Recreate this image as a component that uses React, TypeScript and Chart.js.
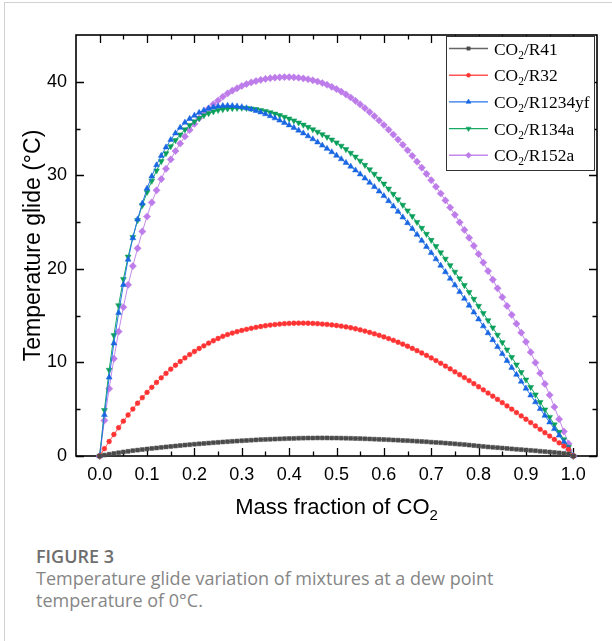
import React, { useEffect, useRef } from 'react';
import { Chart, registerables } from 'chart.js';
import { drawPoint } from 'chart.js/helpers';

Chart.register(...registerables);

// Mass fraction of CO2 (x positions of every computed point)
const MASS_FRACTION = [
  0.0, 0.01, 0.02, 0.03, 0.04, 0.05, 0.06, 0.07, 0.08, 0.09,
  0.1, 0.11, 0.12, 0.13, 0.14, 0.15, 0.16, 0.17, 0.18, 0.19,
  0.2, 0.21, 0.22, 0.23, 0.24, 0.25, 0.26, 0.27, 0.28, 0.29,
  0.3, 0.31, 0.32, 0.33, 0.34, 0.35, 0.36, 0.37, 0.38, 0.39,
  0.4, 0.41, 0.42, 0.43, 0.44, 0.45, 0.46, 0.47, 0.48, 0.49,
  0.5, 0.51, 0.52, 0.53, 0.54, 0.55, 0.56, 0.57, 0.58, 0.59,
  0.6, 0.61, 0.62, 0.63, 0.64, 0.65, 0.66, 0.67, 0.68, 0.69,
  0.7, 0.71, 0.72, 0.73, 0.74, 0.75, 0.76, 0.77, 0.78, 0.79,
  0.8, 0.81, 0.82, 0.83, 0.84, 0.85, 0.86, 0.87, 0.88, 0.89,
  0.9, 0.91, 0.92, 0.93, 0.94, 0.95, 0.96, 0.97, 0.98, 0.99,
  1.0,
];

// Temperature glide (°C) of each mixture
const GLIDE_R41 = [
  0, 0.1, 0.19, 0.27, 0.35, 0.43, 0.5, 0.57, 0.63, 0.69,
  0.75, 0.81, 0.86, 0.92, 0.97, 1.02, 1.07, 1.12, 1.17, 1.21,
  1.26, 1.3, 1.34, 1.38, 1.42, 1.46, 1.5, 1.53, 1.57, 1.6,
  1.63, 1.66, 1.69, 1.72, 1.75, 1.77, 1.79, 1.81, 1.83, 1.85,
  1.87, 1.88, 1.9, 1.91, 1.92, 1.92, 1.93, 1.93, 1.93, 1.92,
  1.92, 1.91, 1.9, 1.89, 1.87, 1.86, 1.84, 1.82, 1.8, 1.78,
  1.76, 1.74, 1.71, 1.69, 1.66, 1.64, 1.61, 1.58, 1.55, 1.52,
  1.48, 1.45, 1.42, 1.38, 1.34, 1.3, 1.26, 1.22, 1.17, 1.12,
  1.07, 1.02, 0.97, 0.93, 0.89, 0.85, 0.81, 0.76, 0.72, 0.68,
  0.64, 0.6, 0.56, 0.51, 0.47, 0.43, 0.38, 0.33, 0.28, 0.22,
  0,
];

const GLIDE_R32 = [
  0, 0.78, 1.55, 2.3, 3.02, 3.72, 4.38, 5.02, 5.64, 6.23,
  6.8, 7.34, 7.86, 8.36, 8.83, 9.28, 9.7, 10.1, 10.48, 10.84,
  11.17, 11.49, 11.78, 12.06, 12.32, 12.56, 12.79, 12.98, 13.14, 13.29,
  13.42, 13.54, 13.65, 13.75, 13.84, 13.92, 13.99, 14.05, 14.1, 14.14,
  14.17, 14.19, 14.2, 14.2, 14.19, 14.17, 14.14, 14.1, 14.06, 14.01,
  13.95, 13.88, 13.8, 13.71, 13.6, 13.48, 13.35, 13.21, 13.06, 12.9,
  12.73, 12.55, 12.36, 12.16, 11.95, 11.73, 11.5, 11.26, 11.01, 10.75,
  10.48, 10.2, 9.91, 9.61, 9.31, 9.0, 8.69, 8.38, 8.06, 7.73,
  7.4, 7.07, 6.73, 6.39, 6.05, 5.7, 5.35, 5.0, 4.64, 4.28,
  3.93, 3.57, 3.21, 2.85, 2.49, 2.13, 1.77, 1.41, 1.05, 0.7,
  0,
];

const GLIDE_R1234YF = [
  0, 4.4, 8.4, 12.05, 15.3, 18.3, 21.0, 23.3, 25.3, 27.0,
  28.6, 29.9, 31.1, 32.1, 33.0, 33.8, 34.5, 35.1, 35.65, 36.05,
  36.4, 36.7, 36.95, 37.15, 37.28, 37.37, 37.43, 37.45, 37.43, 37.38,
  37.3, 37.19, 37.06, 36.91, 36.74, 36.55, 36.34, 36.11, 35.87, 35.62,
  35.36, 35.09, 34.8, 34.5, 34.19, 33.87, 33.54, 33.2, 32.85, 32.49,
  32.12, 31.74, 31.35, 30.95, 30.54, 30.12, 29.68, 29.23, 28.77, 28.29,
  27.8, 27.26, 26.7, 26.12, 25.52, 24.91, 24.29, 23.66, 23.02, 22.37,
  21.71, 21.04, 20.36, 19.67, 18.97, 18.26, 17.54, 16.82, 16.09, 15.36,
  14.62, 13.88, 13.14, 12.4, 11.66, 10.92, 10.18, 9.44, 8.7, 7.96,
  7.22, 6.49, 5.76, 5.04, 4.32, 3.61, 2.9, 2.2, 1.5, 0.8,
  0,
];

const GLIDE_R134A = [
  0, 4.9, 9.2, 12.9, 16.1, 18.9, 21.3, 23.4, 25.2, 26.8,
  28.2, 29.4, 30.5, 31.5, 32.35, 33.1, 33.75, 34.35, 34.9, 35.35,
  35.75, 36.1, 36.4, 36.63, 36.82, 36.96, 37.06, 37.13, 37.17, 37.19,
  37.2, 37.18, 37.13, 37.06, 36.97, 36.86, 36.73, 36.58, 36.42, 36.24,
  36.05, 35.85, 35.63, 35.4, 35.16, 34.91, 34.65, 34.38, 34.1, 33.81,
  33.5, 33.15, 32.78, 32.39, 31.98, 31.55, 31.1, 30.63, 30.14, 29.63,
  29.1, 28.56, 28.0, 27.42, 26.83, 26.23, 25.62, 25.0, 24.37, 23.73,
  23.08, 22.42, 21.75, 21.07, 20.38, 19.68, 18.97, 18.25, 17.52, 16.78,
  16.03, 15.27, 14.5, 13.72, 12.94, 12.15, 11.36, 10.56, 9.76, 8.96,
  8.16, 7.36, 6.56, 5.76, 4.96, 4.16, 3.36, 2.56, 1.76, 0.96,
  0,
];

const GLIDE_R152A = [
  0, 3.8, 7.2, 10.4, 13.3, 15.9, 18.3, 20.3, 22.2, 24.0,
  25.6, 27.1, 28.4, 29.6, 30.7, 31.7, 32.6, 33.4, 34.15, 34.85,
  35.5, 36.1, 36.65, 37.15, 37.6, 38.0, 38.4, 38.75, 39.05, 39.3,
  39.55, 39.75, 39.93, 40.08, 40.2, 40.3, 40.38, 40.44, 40.48, 40.5,
  40.5, 40.48, 40.43, 40.36, 40.27, 40.16, 40.03, 39.87, 39.68, 39.46,
  39.22, 38.95, 38.65, 38.32, 37.96, 37.58, 37.18, 36.76, 36.32, 35.86,
  35.38, 34.88, 34.36, 33.82, 33.26, 32.68, 32.08, 31.46, 30.82, 30.16,
  29.48, 28.78, 28.06, 27.32, 26.56, 25.78, 24.98, 24.16, 23.32, 22.46,
  21.58, 20.68, 19.77, 18.85, 17.92, 16.98, 16.04, 15.09, 14.14, 13.18,
  12.2, 11.1, 9.98, 8.85, 7.7, 6.52, 5.24, 3.94, 2.63, 1.32,
  0,
];

const SERIES_LABELS = ['CO2/R41', 'CO2/R32', 'CO2/R1234yf', 'CO2/R134a', 'CO2/R152a'];
const SERIES_VALUES = [GLIDE_R41, GLIDE_R32, GLIDE_R1234YF, GLIDE_R134A, GLIDE_R152A];

// Axis ticks
const X_TICKS = [0, 0.1, 0.2, 0.3, 0.4, 0.5, 0.6, 0.7, 0.8, 0.9, 1.0];
const X_MINOR = [0.05, 0.15, 0.25, 0.35, 0.45, 0.55, 0.65, 0.75, 0.85, 0.95];
const Y_TICKS = [0, 10, 20, 30, 40];
const Y_MINOR = [5, 15, 25, 35];

const X_TITLE = 'Mass fraction of CO2';
const Y_TITLE = 'Temperature glide (°C)';

// Marker / line styling per series
const STYLES = [
  { color: '#4a4a4a', line: '#666666', pointStyle: 'rect', radius: 2.8, rotation: 0 },
  { color: '#ff3333', line: '#ff5555', pointStyle: 'circle', radius: 2.4, rotation: 0 },
  { color: '#1866e2', line: '#2a74e6', pointStyle: 'triangle', radius: 3.4, rotation: 0 },
  { color: '#0a9f5a', line: '#16aa66', pointStyle: 'triangle', radius: 3.4, rotation: 180 },
  { color: '#bd7ce9', line: '#c48aeb', pointStyle: 'rectRot', radius: 3.6, rotation: 0 },
];

const SANS = '"Liberation Sans", Arial, sans-serif';
const SERIF = '"Liberation Serif", "Times New Roman", serif';

// Draws e.g. "CO2/R41" with the 2 lowered as a subscript; returns end x.
function drawChemText(
  ctx: CanvasRenderingContext2D,
  text: string,
  x: number,
  y: number,
  size: number,
  family: string,
  subSize: number,
  subDrop: number,
) {
  const idx = text.indexOf('CO2');
  const parts: Array<[string, boolean]> =
    idx < 0
      ? [[text, false]]
      : [
          [text.slice(0, idx + 2), false],
          ['2', true],
          [text.slice(idx + 3), false],
        ];
  let cx = x;
  ctx.textAlign = 'left';
  ctx.textBaseline = 'alphabetic';
  for (const [t, sub] of parts) {
    if (!t) continue;
    ctx.font = `${sub ? subSize : size}px ${family}`;
    ctx.fillText(t, cx, sub ? y + subDrop : y);
    cx += ctx.measureText(t).width;
  }
  return cx;
}

function measureChemText(ctx: CanvasRenderingContext2D, text: string, size: number, family: string, subSize: number) {
  const idx = text.indexOf('CO2');
  ctx.font = `${size}px ${family}`;
  if (idx < 0) return ctx.measureText(text).width;
  let w = ctx.measureText(text.slice(0, idx + 2)).width + ctx.measureText(text.slice(idx + 3)).width;
  ctx.font = `${subSize}px ${family}`;
  w += ctx.measureText('2').width;
  return w;
}

const framePlugin = {
  id: 'frameTicksLegend',
  beforeDatasetsDraw(chart: any) {
    const { ctx, chartArea: a, scales } = chart;
    const xs = scales.x;
    const ys = scales.y;
    ctx.save();
    ctx.strokeStyle = '#000';
    ctx.lineWidth = 1.6;
    ctx.strokeRect(a.left, a.top, a.right - a.left, a.bottom - a.top);
    ctx.lineWidth = 1.3;
    const major = 8;
    const minor = 4.5;
    ctx.beginPath();
    const xTick = (v: number, len: number) => {
      const p = Math.round(xs.getPixelForValue(v)) + 0.5;
      ctx.moveTo(p, a.bottom);
      ctx.lineTo(p, a.bottom - len);
      ctx.moveTo(p, a.top);
      ctx.lineTo(p, a.top + len);
    };
    const yTick = (v: number, len: number) => {
      const p = Math.round(ys.getPixelForValue(v)) + 0.5;
      ctx.moveTo(a.left, p);
      ctx.lineTo(a.left + len, p);
      ctx.moveTo(a.right, p);
      ctx.lineTo(a.right - len, p);
    };
    X_TICKS.forEach((v) => xTick(v, major));
    X_MINOR.forEach((v) => xTick(v, minor));
    Y_TICKS.forEach((v) => yTick(v, major));
    Y_MINOR.forEach((v) => yTick(v, minor));
    ctx.stroke();
    ctx.restore();
  },
  afterDatasetsDraw(chart: any) {
    const { ctx, chartArea: a } = chart;
    ctx.save();

    // axis titles
    ctx.fillStyle = '#000';
    const tSize = 22;
    const xTitleW = measureChemText(ctx, X_TITLE, tSize, SANS, 15);
    drawChemText(ctx, X_TITLE, (a.left + a.right) / 2 - xTitleW / 2, 514, tSize, SANS, 15, 6);

    ctx.save();
    ctx.translate(34, (a.top + a.bottom) / 2);
    ctx.rotate(-Math.PI / 2);
    ctx.font = `23px ${SANS}`;
    ctx.textAlign = 'center';
    ctx.textBaseline = 'middle';
    ctx.fillText(Y_TITLE, 0, 0);
    ctx.restore();

    // legend box
    const bx = 446.5;
    const by = 36.5;
    const bw = 148;
    const bh = 134;
    ctx.fillStyle = '#fff';
    ctx.fillRect(bx, by, bw, bh);
    ctx.strokeStyle = '#333';
    ctx.lineWidth = 1;
    ctx.strokeRect(bx, by, bw, bh);

    SERIES_LABELS.forEach((label, i) => {
      const st = STYLES[i];
      const cy = 48.5 + i * 26.7;
      ctx.strokeStyle = st.line;
      ctx.lineWidth = 1.4;
      ctx.beginPath();
      ctx.moveTo(449, cy);
      ctx.lineTo(488, cy);
      ctx.stroke();
      ctx.fillStyle = st.color;
      ctx.strokeStyle = st.color;
      ctx.lineWidth = 0.5;
      drawPoint(ctx, { pointStyle: st.pointStyle, rotation: st.rotation, radius: st.radius * 0.85, borderWidth: 0.5 } as any, 468.5, cy);
      ctx.fillStyle = '#000';
      drawChemText(ctx, label, 494, cy + 6, 17.4, SERIF, 11.5, 4);
    });
    ctx.restore();
  },
};

export default function App() {
  const canvasRef = useRef<HTMLCanvasElement | null>(null);

  useEffect(() => {
    const canvas = canvasRef.current;
    if (!canvas) return;
    const datasets = SERIES_VALUES.map((vals, i) => {
      const st = STYLES[i];
      return {
        label: SERIES_LABELS[i],
        data: MASS_FRACTION.map((x, j) => ({ x, y: vals[j] })),
        showLine: true,
        borderColor: st.line,
        borderWidth: 1,
        backgroundColor: st.color,
        pointBackgroundColor: st.color,
        pointBorderColor: st.color,
        pointBorderWidth: 0.5,
        pointStyle: st.pointStyle,
        pointRotation: st.rotation,
        pointRadius: st.radius,
        pointHoverRadius: st.radius,
        tension: 0,
        clip: false as any,
      };
    });

    const chart = new Chart(canvas, {
      type: 'scatter',
      data: { datasets: datasets as any },
      options: {
        responsive: false,
        animation: false,
        events: [],
        layout: { padding: { top: 35, right: 15, left: 0, bottom: 0 } },
        plugins: {
          legend: { display: false },
          tooltip: { enabled: false },
        },
        scales: {
          x: {
            type: 'linear',
            min: -0.05,
            max: 1.05,
            afterBuildTicks: (s: any) => {
              s.ticks = X_TICKS.map((value) => ({ value }));
            },
            afterFit: (s: any) => {
              s.height = 74;
            },
            grid: { display: false, drawTicks: false },
            border: { display: false },
            ticks: {
              padding: 8,
              autoSkip: false,
              maxRotation: 0,
              color: '#000',
              font: { family: SANS, size: 18 },
              callback: (v: any) => Number(v).toFixed(1),
            },
          },
          y: {
            type: 'linear',
            min: 0,
            max: 45,
            afterBuildTicks: (s: any) => {
              s.ticks = Y_TICKS.map((value) => ({ value }));
            },
            afterFit: (s: any) => {
              s.width = 76;
            },
            grid: { display: false, drawTicks: false },
            border: { display: false },
            ticks: {
              padding: 9,
              autoSkip: false,
              color: '#000',
              font: { family: SANS, size: 18 },
              callback: (v: any) => String(v),
            },
          },
        },
      },
      plugins: [framePlugin],
    });

    return () => chart.destroy();
  }, []);

  return (
    <div
      style={{
        position: 'fixed',
        left: 0,
        top: 0,
        width: 612,
        height: 641,
        background: '#fff',
        overflow: 'hidden',
      }}
    >
      <div
        style={{
          position: 'absolute',
          left: 4,
          top: 2,
          width: 700,
          height: 700,
          borderLeft: '1px solid #d2d2d2',
          borderTop: '1px solid #d2d2d2',
        }}
      />
      <canvas
        ref={canvasRef}
        width={612}
        height={530}
        style={{ position: 'absolute', left: 0, top: 0, width: 612, height: 530 }}
      />
      <div
        style={{
          position: 'absolute',
          left: 36,
          top: 546,
          fontFamily: '"Open Sans", sans-serif',
          fontWeight: 600,
          fontSize: 18,
          lineHeight: '20px',
          color: '#6e6e6e',
          whiteSpace: 'nowrap',
        }}
      >
        FIGURE 3
      </div>
      <div
        style={{
          position: 'absolute',
          left: 36,
          top: 567,
          width: 570,
          fontFamily: '"Open Sans", sans-serif',
          fontSize: 18,
          lineHeight: '22px',
          color: '#868686',
          whiteSpace: 'nowrap',
        }}
      >
        Temperature glide variation of mixtures at a dew point
        <br />
        temperature of 0°C.
      </div>
    </div>
  );
}
